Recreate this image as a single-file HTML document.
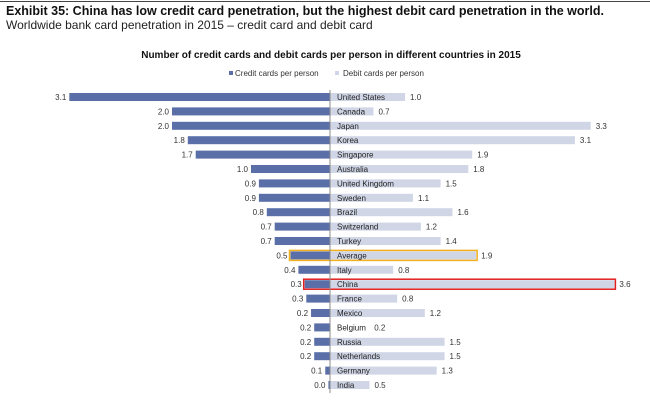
<!DOCTYPE html>
<html><head><meta charset="utf-8"><style>
body{margin:0;background:#fff;width:650px;height:402px;overflow:hidden;font-family:"Liberation Sans",sans-serif}
</style></head><body>
<div style="position:absolute;left:0;top:1px;width:650px;height:1px;background:#444"></div>
<div style="position:absolute;left:6px;top:4px;font-size:12.5px;font-weight:bold;color:#111">Exhibit 35: China has low credit card penetration, but the highest debit card penetration in the world.</div>
<div style="position:absolute;left:6px;top:18px;font-size:12px;color:#222">Worldwide bank card penetration in 2015 – credit card and debit card</div>
<svg id="chart" width="650" height="402" style="position:absolute;left:0;top:0">
<text x="331" y="58" text-anchor="middle" font-size="10" font-weight="bold" fill="#111">Number of credit cards and debit cards per person in different countries in 2015</text>
<g font-size="8" fill="#333">
<rect x="229" y="71" width="4" height="4" fill="#5a6fa8"/>
<text x="235" y="76">Credit cards per person</text>
<rect x="335" y="71" width="4" height="4" fill="#d0d6e6"/>
<text x="343" y="76">Debit cards per person</text>
</g>
</svg>
<script>
const countries=["United States","Canada","Japan","Korea","Singapore","Australia","United Kingdom","Sweden","Brazil","Switzerland","Turkey","Average","Italy","China","France","Mexico","Belgium","Russia","Netherlands","Germany","India"];
const credit=[3.3,2.0,2.0,1.8,1.7,1.0,0.9,0.9,0.8,0.7,0.7,0.5,0.4,0.32,0.3,0.24,0.2,0.2,0.2,0.06,0.02];
const debit=[0.95,0.55,3.3,3.1,1.8,1.75,1.4,1.05,1.55,1.15,1.4,1.85,0.8,3.6,0.85,1.2,0.0,1.45,1.45,1.35,0.5];
const creditLabels=["3.1","2.0","2.0","1.8","1.7","1.0","0.9","0.9","0.8","0.7","0.7","0.5","0.4","0.3","0.3","0.2","0.2","0.2","0.2","0.1","0.0"];
const debitLabels=["1.0","0.7","3.3","3.1","1.9","1.8","1.5","1.1","1.6","1.2","1.4","1.9","0.8","3.6","0.8","1.2","0.2","1.5","1.5","1.3","0.5"];
const NS="http://www.w3.org/2000/svg",svg=document.getElementById('chart');
const X0=330,K=79,Y0=97,DY=14.4,BH=8;
const xC=v=>X0-v*K, xD=v=>X0+v*K, yR=i=>Y0+i*DY;
function mk(t,a){const e=document.createElementNS(NS,t);for(const k in a)e.setAttribute(k,a[k]);svg.appendChild(e);return e;}
countries.forEach((c,i)=>{
 const y=yR(i);
 const cb=mk('rect',{x:xC(credit[i]),y:y-BH/2,width:X0-xC(credit[i]),height:BH,fill:'#5a6fa8'});
 
 
 const db=mk('rect',{x:X0,y:y-BH/2,width:xD(debit[i])-X0,height:BH,fill:'#d0d6e6'});
 
 
 if(c==="Average"||c==="China"){
  const hl=mk('rect',{x:xC(credit[i])-1,y:y-BH/2-1,width:xD(debit[i])-xC(credit[i])+2,height:BH+2,fill:'none',stroke:c==="China"?'#e02020':'#f0b020','stroke-width':1.5});
  
  
 }
 const cl=mk('text',{x:xC(credit[i])-3,y:y+3,'text-anchor':'end','font-size':8,fill:'#333'});cl.textContent=creditLabels[i];
 
 
 const nl=mk('text',{x:X0+7,y:y+3,'font-size':8,fill:'#222'});nl.textContent=c;
 
 
 const dx=Math.max(xD(debit[i]),X0+7+c.length*4.6)+5;
 const dl=mk('text',{x:dx,y:y+3,'font-size':8,fill:'#333'});dl.textContent=debitLabels[i];
 
 
});
const ax=mk('line',{x1:X0,y1:Y0-7,x2:X0,y2:yR(countries.length-1)+8,stroke:'#8a8a8a','stroke-width':1});


</script>
</body></html>
